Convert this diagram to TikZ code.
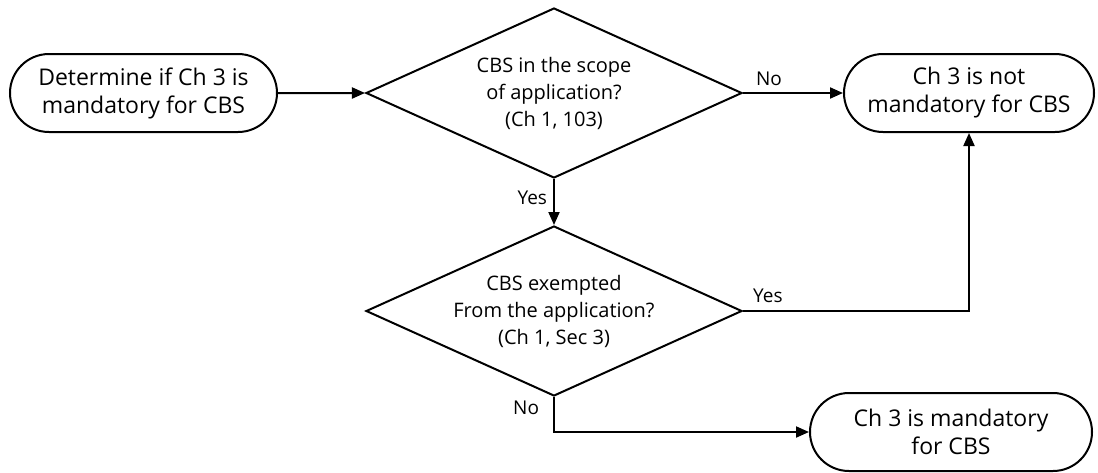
\documentclass[tikz,border=0pt]{standalone}
\usepackage{fontspec}
\setmainfont{Open Sans}
\usepackage{tikz}
\usetikzlibrary{positioning,shapes.geometric,shapes.misc,arrows.meta}

\begin{document}
\begin{tikzpicture}[
  x=1pt, y=-1pt,
  line width=2pt,
  term/.style={rounded rectangle, draw, inner sep=0pt, align=center,
    minimum height=78pt, font=\fontsize{23}{28}\selectfont},
  decide/.style={diamond, draw, inner sep=-10pt, shape aspect=2.2, align=center,
    minimum width=376pt, minimum height=170pt, font=\fontsize{20}{27}\selectfont},
  lbl/.style={font=\fontsize{19}{22}\selectfont, inner sep=4pt},
  flow/.style={-{Triangle[length=13pt,width=11pt]}}
]
\useasboundingbox (0,0) rectangle (1098,472);

\node[term, minimum width=267pt] (start) at (143.5,93) {Determine if Ch 3 is\\mandatory for CBS};
\node[decide, right=87pt of start] (scope) {CBS in the scope\\of application?\\(Ch 1, 103)};
\node[term, minimum width=250pt, right=100pt of scope] (notmand) {Ch 3 is not\\mandatory for CBS};
\node[decide, below=46pt of scope] (exempt) {CBS exempted\\From the application?\\(Ch 1, Sec 3)};
\node[term, minimum width=282pt] (mand) at (951,432) {Ch 3 is mandatory\\for CBS};

\draw[flow] (start) -- (scope);
\draw[flow] (scope.east) -- node[lbl, above, pos=0.26, yshift=2pt] (no1) {No} (notmand.west);
\draw[flow] (scope.south) -- node[lbl, left, pos=0.4, xshift=-2pt] (yes1) {Yes} (exempt.north);
\draw[flow] (exempt.east) -- node[lbl, above, pos=0.11, yshift=3pt] (yes2) {Yes} (notmand.south |- exempt.east) -- (notmand.south);
\draw[flow] (exempt.south) -- node[lbl, left, pos=0.3, xshift=-10pt] (no2) {No} (exempt.south |- mand.west) -- (mand.west);
\end{tikzpicture}
\end{document}
